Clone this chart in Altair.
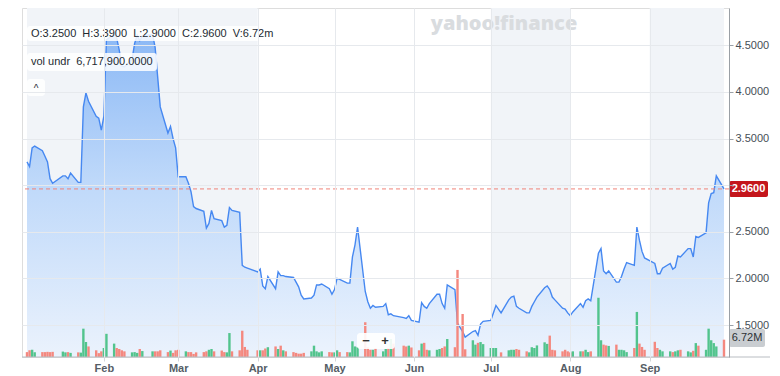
import altair as alt
import pandas as pd

# ---- trading calendar -------------------------------------------------------
first_day = "2024-01-02"
last_day = "2024-09-30"
holidays = ["2024-01-15", "2024-02-19", "2024-03-29", "2024-05-27",
            "2024-06-19", "2024-07-04", "2024-09-02"]

# ---- daily closes (per month) -----------------------------------------------
close_jan = [3.25, 3.20, 3.40, 3.42, 3.37, 3.31, 3.25, 3.07, 3.02, 3.10, 3.10,
             3.07, 3.13, 3.03, 3.03, 3.84, 3.99, 3.90, 3.74, 3.72, 3.59]
close_feb = [3.74, 4.56, 4.62, 4.58, 4.45, 4.28, 4.27, 4.35, 4.52, 4.61, 4.55,
             4.60, 4.62, 4.48, 4.16, 3.84, 3.56, 3.63, 3.50, 3.40]
close_mar = [3.09, 3.09, 3.02, 2.93, 2.77, 2.75, 2.72, 2.54, 2.59, 2.73, 2.64,
             2.62, 2.55, 2.57, 2.76, 2.73, 2.71, 2.14, 2.12, 2.11]
close_apr = [2.07, 2.10, 1.92, 1.89, 2.02, 1.89, 2.07, 2.03, 2.03, 2.02, 2.01,
             1.96, 1.91, 1.82, 1.78, 1.79, 1.82, 1.93, 1.93, 1.94, 1.89, 1.83]
close_may = [1.88, 2.00, 1.99, 1.95, 1.95, 2.23, 2.36, 2.55, 1.86, 1.75, 1.68,
             1.71, 1.69, 1.70, 1.73, 1.61, 1.62, 1.60, 1.58, 1.57, 1.60, 1.55]
close_jun = [1.53, 1.74, 1.70, 1.68, 1.73, 1.83, 1.83, 1.73, 1.68, 1.93, 1.88,
             1.52, 1.43, 1.37, 1.43, 1.44, 1.39, 1.51, 1.54]
close_jul = [1.55, 1.63, 1.71, 1.63, 1.77, 1.80, 1.81, 1.70, 1.68, 1.63, 1.63,
             1.70, 1.75, 1.80, 1.90, 1.92, 1.88, 1.80, 1.77, 1.68, 1.67, 1.63]
close_aug = [1.60, 1.64, 1.73, 1.69, 1.76, 1.78, 1.76, 2.27, 2.32, 2.08, 2.05,
             2.08, 1.96, 1.96, 2.02, 2.10, 2.17, 2.14, 2.55, 2.41, 2.29, 2.22]
close_sep = [2.16, 2.05, 2.05, 2.11, 2.16, 2.10, 2.12, 2.24, 2.23, 2.32, 2.32,
             2.23, 2.45, 2.44, 2.49, 2.81, 2.91, 2.92, 3.10, 2.96]

# ---- daily volumes in millions (per month) ----------------------------------
vol_jan = [1.9, 2.6, 2.8, 1.8, 1.9, 1.9, 2.0, 1.9, 2.0, 2.1, 1.8, 1.9, 1.6, 1.8,
           1.7, 11.0, 5.8, 4.1, 2.6, 1.5, 2.2]
vol_feb = [3.5, 9.0, 5.2, 3.5, 3.1, 2.6, 2.2, 1.8, 1.9, 1.6, 3.1, 2.3, 2.2, 2.2,
           2.2, 2.6, 1.9, 2.5, 1.6, 2.6]
vol_mar = [2.8, 2.2, 1.9, 1.9, 1.2, 1.8, 1.9, 2.2, 2.8, 3.1, 2.2, 2.5, 1.9, 1.8,
           9.3, 2.2, 2.6, 10.2, 3.9, 2.8]
vol_apr = [2.6, 2.6, 2.6, 3.3, 3.8, 4.1, 3.1, 4.4, 2.6, 2.2, 1.9, 1.6, 1.3, 1.3,
           1.6, 2.2, 4.4, 2.2, 1.8, 2.2, 1.9, 1.8]
vol_may = [1.8, 2.6, 1.9, 1.9, 1.8, 6.1, 4.1, 3.8, 13.5, 3.8, 2.8, 2.8, 3.5, 2.2,
           3.1, 3.5, 7.0, 5.2, 4.4, 4.1, 4.4, 3.7]
vol_jun = [2.6, 5.2, 5.5, 2.8, 2.6, 2.8, 3.1, 3.5, 4.1, 7.0, 3.8, 33.8, 16.7, 3.0,
           6.5, 4.8, 5.5, 5.8, 5.0]
vol_jul = [3.5, 3.5, 3.5, 1.8, 2.6, 2.8, 2.8, 3.1, 2.8, 2.2, 1.8, 3.8, 3.5, 4.5,
           5.7, 5.1, 8.3, 2.8, 2.6, 2.2, 2.8, 2.2]
vol_aug = [1.8, 2.2, 2.2, 2.2, 2.8, 1.9, 2.2, 23.0, 6.5, 4.8, 4.5, 4.3, 4.8, 2.8,
           2.8, 2.6, 1.9, 3.5, 17.5, 5.2, 3.9, 2.8]
vol_sep = [5.9, 3.5, 2.8, 2.2, 2.2, 1.9, 2.2, 2.6, 2.8, 2.2, 1.8, 2.4, 5.4, 4.4,
           2.8, 11.0, 6.5, 5.4, 4.1, 6.72]

# ---- axis / annotation values ------------------------------------------------
price_ticks = [1.5, 2.0, 2.5, 3.0, 3.5, 4.0, 4.5]
price_domain = [1.157, 4.901]
volume_domain = [0, 135.5]
last_close = 2.96
last_volume_label = "6.72M"
ohlc_text = "O:3.2500 \u00a0H:3.3900 \u00a0L:2.9000 \u00a0C:2.9600 \u00a0V:6.72m"
vol_text = "vol undr \u00a06,717,900.0000"
band_start = ["2024-01-02", "2024-07-01", "2024-09-01"]
band_end = ["2024-04-01", "2024-08-01", "2024-09-30"]

# ---- build table -------------------------------------------------------------
dates = [d.strftime("%Y-%m-%d") for d in pd.bdate_range(first_day, last_day)
         if d.strftime("%Y-%m-%d") not in holidays]
close = (close_jan + close_feb + close_mar + close_apr + close_may + close_jun
         + close_jul + close_aug + close_sep)
volume = (vol_jan + vol_feb + vol_mar + vol_apr + vol_may + vol_jun + vol_jul
          + vol_aug + vol_sep)
direction = ["down"] + ["up" if c >= p else "down" for p, c in zip(close[:-1], close[1:])]
df = pd.DataFrame({"date": dates, "close": close, "volume": volume, "dir": direction})
bands = pd.DataFrame({"start": band_start, "end": band_end})
one = pd.DataFrame({"k": [0]})

W, H = 707, 349
FONT = "Liberation Sans"

x_scale = alt.Scale(type="utc", domain=[alt.DateTime(year=2024, month=1, date=2, utc=True),
                                        alt.DateTime(year=2024, month=9, date=30, utc=True)])
x_axis = alt.Axis(values=[alt.DateTime(year=2024, month=m, date=1, utc=True) for m in range(2, 10)],
                  labelExpr="utcFormat(datum.value, '%b')", title=None, domain=False,
                  tickSize=4, tickColor="#d3d7db", labelColor="#555d66",
                  labelFontWeight="bold", labelFontSize=11, labelPadding=1,
                  grid=True, gridColor="#e6e9ed", zindex=1)
price_scale = alt.Scale(domain=price_domain, nice=False, zero=False)
price_axis = alt.Axis(orient="right", values=price_ticks, format=".4f", title=None,
                      labelExpr="datum.value == 3 ? '' : datum.label",
                      labelColor="#464e56", labelFontSize=11, labelPadding=2,
                      tickSize=4, tickColor="#9aa0a6", domainColor="#9aa0a6",
                      grid=True, gridColor="#e6e9ed", zindex=1)
vol_scale = alt.Scale(domain=volume_domain, nice=False)

X = alt.X("date:T", scale=x_scale, axis=x_axis)

band_layer = alt.Chart(bands).mark_rect(color="#f1f4f8").encode(
    x=alt.X("start:T", scale=x_scale, axis=x_axis), x2="end:T")

gradient = alt.Gradient(gradient="linear", x1=1, x2=1, y1=0, y2=1,
                        stops=[alt.GradientStop(color="#80b2f5", offset=0),
                               alt.GradientStop(color="#b8d5fa", offset=0.45),
                               alt.GradientStop(color="#eaf2fd", offset=1)])
area = alt.Chart(df).mark_area(color=gradient, opacity=0.9).encode(
    x=X, y=alt.Y("close:Q", scale=price_scale, axis=price_axis),
    y2=alt.datum(price_domain[0]))
line = alt.Chart(df).mark_line(color="#4688f1", strokeWidth=1.4).encode(
    x=X, y=alt.Y("close:Q", scale=price_scale, axis=price_axis))
dash = alt.Chart(one).mark_rule(color="#f08379", strokeDash=[4, 3], strokeWidth=1).encode(
    y=alt.datum(last_close))
red_box = alt.Chart(one).mark_rect(color="#c4161c", cornerRadius=2).encode(
    x=alt.value(W), x2=alt.value(W + 39),
    y=alt.datum(last_close + 0.086), y2=alt.datum(last_close - 0.086))
red_text = alt.Chart(one).mark_text(color="white", fontWeight="bold", fontSize=11,
                                    font=FONT, align="center", baseline="middle").encode(
    x=alt.value(W + 19.5), y=alt.datum(last_close), text=alt.value(f"{last_close:.4f}"))

watermark = alt.Chart(one).mark_text(text="yahoo!finance", color="#d9dcdf", fontSize=20,
                                     fontWeight=800, font="Open Sans", align="center",
                                     baseline="alphabetic").encode(x=alt.value(482), y=alt.value(22))
box1 = alt.Chart(one).mark_rect(color="white", opacity=0.85, cornerRadius=3).encode(
    x=alt.value(5), x2=alt.value(250), y=alt.value(18), y2=alt.value(33))
text1 = alt.Chart(one).mark_text(color="#232a31", fontSize=11, font=FONT, align="left",
                                 baseline="middle").encode(
    x=alt.value(9), y=alt.value(25.5), text=alt.value(ohlc_text))
box2 = alt.Chart(one).mark_rect(color="white", opacity=0.85, cornerRadius=3).encode(
    x=alt.value(5), x2=alt.value(135), y=alt.value(45), y2=alt.value(63))
text2 = alt.Chart(one).mark_text(color="#232a31", fontSize=11, font=FONT, align="left",
                                 baseline="middle").encode(
    x=alt.value(9), y=alt.value(54), text=alt.value(vol_text))
box3 = alt.Chart(one).mark_rect(color="white", opacity=0.85, cornerRadius=3).encode(
    x=alt.value(5), x2=alt.value(23), y=alt.value(71), y2=alt.value(88))
text3 = alt.Chart(one).mark_text(color="#232a31", fontSize=10, font=FONT, align="center",
                                 baseline="middle").encode(
    x=alt.value(14), y=alt.value(81), text=alt.value("^"))

price_group = alt.layer(band_layer, area, line, dash, red_box, red_text, watermark,
                        box1, text1, box2, text2, box3, text3)

bars = alt.Chart(df).mark_bar(width=2.4, clip=True).encode(
    x=X, y=alt.Y("volume:Q", scale=vol_scale, axis=None),
    color=alt.Color("dir:N", scale=alt.Scale(domain=["up", "down"],
                                             range=["#52c48d", "#f4887f"]), legend=None))
base_rule = alt.Chart(one).mark_rule(color="#b9bdc2", strokeWidth=1).encode(
    x=alt.value(0), x2=alt.value(W + 41), y=alt.value(H))
gray_box = alt.Chart(one).mark_rect(color="#c9cdd1", cornerRadius=2).encode(
    x=alt.value(W), x2=alt.value(W + 36), y=alt.datum(10.9), y2=alt.datum(3.9))
gray_text = alt.Chart(one).mark_text(color="#2c3136", fontSize=11, font=FONT,
                                     align="center", baseline="middle").encode(
    x=alt.value(W + 18), y=alt.datum(7.4), text=alt.value(last_volume_label))
zoom_box = alt.Chart(one).mark_rect(color="white", opacity=0.9, cornerRadius=3).encode(
    x=alt.value(335), x2=alt.value(373), y=alt.value(325), y2=alt.value(341))
zoom_minus = alt.Chart(one).mark_text(color="#333", fontSize=13, fontWeight="bold", font=FONT,
                                      align="center", baseline="middle").encode(
    x=alt.value(344), y=alt.value(333), text=alt.value("\u2212"))
zoom_plus = alt.Chart(one).mark_text(color="#333", fontSize=13, fontWeight="bold", font=FONT,
                                     align="center", baseline="middle").encode(
    x=alt.value(363), y=alt.value(333), text=alt.value("+"))

vol_group = alt.layer(bars, base_rule, gray_box, gray_text, zoom_box, zoom_minus, zoom_plus)

chart = alt.layer(price_group, vol_group).resolve_scale(y="independent").properties(
    width=W, height=H,
    padding={"left": 14, "top": 0, "right": 43, "bottom": 18},
    autosize=alt.AutoSizeParams(type="none"),
).configure_view(stroke=None).configure(font=FONT)

chart.save("out.html", embed_options={"renderer": "svg", "actions": False})
